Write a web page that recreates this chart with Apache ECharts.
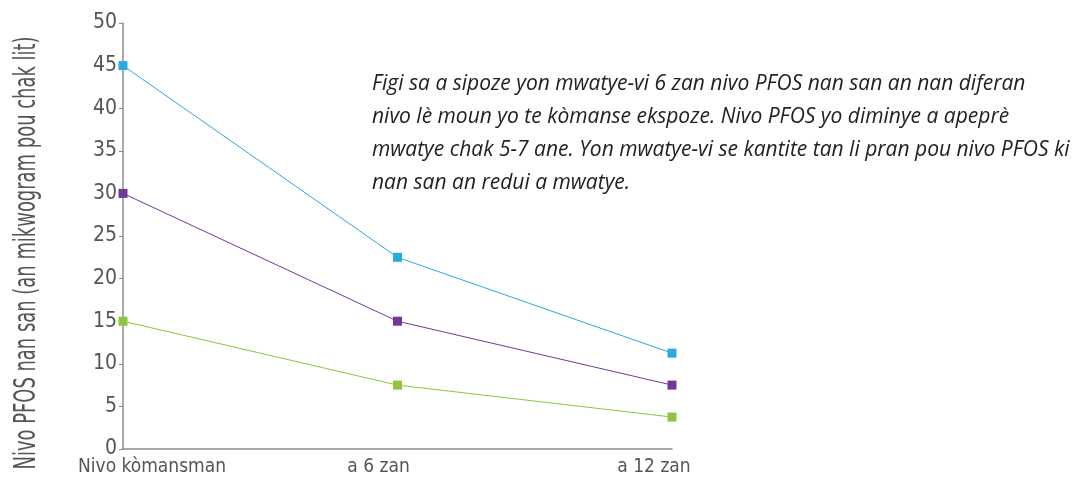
<!DOCTYPE html>
<html>
<head>
<meta charset="utf-8">
<script src="https://cdn.jsdelivr.net/npm/echarts@6/dist/echarts.min.js"></script>
<style>
  html, body { margin: 0; padding: 0; background: #fff; }
  #chart { width: 1086px; height: 501px; }
</style>
</head>
<body>
<div id="chart"></div>
<script>
'use strict';

// data
var categories = ['Nivo kòmansman', 'a 6 zan', 'a 12 zan'];
var seriesHigh = [45, 22.5, 11.25];
var seriesMid = [30, 15, 7.5];
var seriesLow = [15, 7.5, 3.75];
var yTicks = [0, 5, 10, 15, 20, 25, 30, 35, 40, 45, 50];

var axisName = 'Nivo PFOS nan san (an mikwogram pou chak lit)';
var note = 'Figi sa a sipoze yon mwatye-vi 6 zan nivo PFOS nan san an nan diferan\n' +
    'nivo lè moun yo te kòmanse ekspoze. Nivo PFOS yo diminye a apeprè\n' +
    'mwatye chak 5-7 ane. Yon mwatye-vi se kantite tan li pran pou nivo PFOS ki\n' +
    'nan san an redui a mwatye.';

var narrow = "'DejaVu Sans Condensed', 'Liberation Sans Narrow', sans-serif";
var grey = '#555555';

var chart = echarts.init(document.getElementById('chart'));

// squeeze a text horizontally to a given width (the original uses a condensed face)
function squeeze(text, font, width) {
    var ctx = document.createElement('canvas').getContext('2d');
    ctx.font = font;
    return width / ctx.measureText(text).width;
}

function line(name, data, color) {
    return {
        name: name,
        type: 'line',
        data: data,
        symbol: 'rect',
        symbolSize: 9,
        showSymbol: true,
        lineStyle: { color: color, width: 1 },
        itemStyle: { color: color },
        animation: false
    };
}

// x labels sit a bit off their points in the original
var labelShift = ['s0', 's1', 's2'];
var xFont = 19;

var nameFont = '30px ' + narrow;

var option = {
    backgroundColor: '#ffffff',
    grid: { left: 123, right: 414, top: 23, bottom: 52 },
    xAxis: {
        type: 'category',
        data: categories,
        boundaryGap: false,
        axisLine: { lineStyle: { color: '#8c8c8c', width: 1.5 } },
        axisTick: { show: false },
        axisLabel: {
            interval: 0,
            margin: 9,
            color: grey,
            fontFamily: narrow,
            fontSize: xFont,
            formatter: function (v, i) { return '{' + labelShift[i] + '|' + v + '}'; },
            rich: {
                s0: { padding: [0, 0, 0, 58], fontFamily: narrow, fontSize: xFont, color: grey },
                s1: { padding: [0, 38, 0, 0], fontFamily: narrow, fontSize: xFont, color: grey },
                s2: { padding: [0, 36, 0, 0], fontFamily: narrow, fontSize: xFont, color: grey }
            }
        },
        splitLine: { show: false }
    },
    yAxis: {
        type: 'value',
        min: yTicks[0],
        max: yTicks[yTicks.length - 1],
        interval: yTicks[1] - yTicks[0],
        axisLine: { show: true, lineStyle: { color: '#8c8c8c', width: 1.5 } },
        axisTick: { show: true, length: 4, lineStyle: { color: '#8c8c8c' } },
        axisLabel: { color: grey, fontFamily: narrow, fontSize: 21, margin: 6 },
        splitLine: { show: false }
    },
    graphic: [
        {
            type: 'text',
            x: 27,
            y: 253,
            rotation: Math.PI / 2,
            scaleX: squeeze(axisName, nameFont, 433),
            style: {
                text: axisName,
                fill: grey,
                font: nameFont,
                align: 'center',
                verticalAlign: 'middle'
            }
        },
        {
            type: 'text',
            left: 372,
            top: 68,
            style: {
                text: note,
                fill: '#222222',
                fontFamily: "'Open Sans', sans-serif",
                fontStyle: 'italic',
                fontSize: 21,
                lineHeight: 33
            }
        }
    ],
    series: [
        line('high', seriesHigh, '#29abe2'),
        line('mid', seriesMid, '#73379a'),
        line('low', seriesLow, '#8cc63f')
    ]
};
chart.setOption(option);
</script>
</body>
</html>
